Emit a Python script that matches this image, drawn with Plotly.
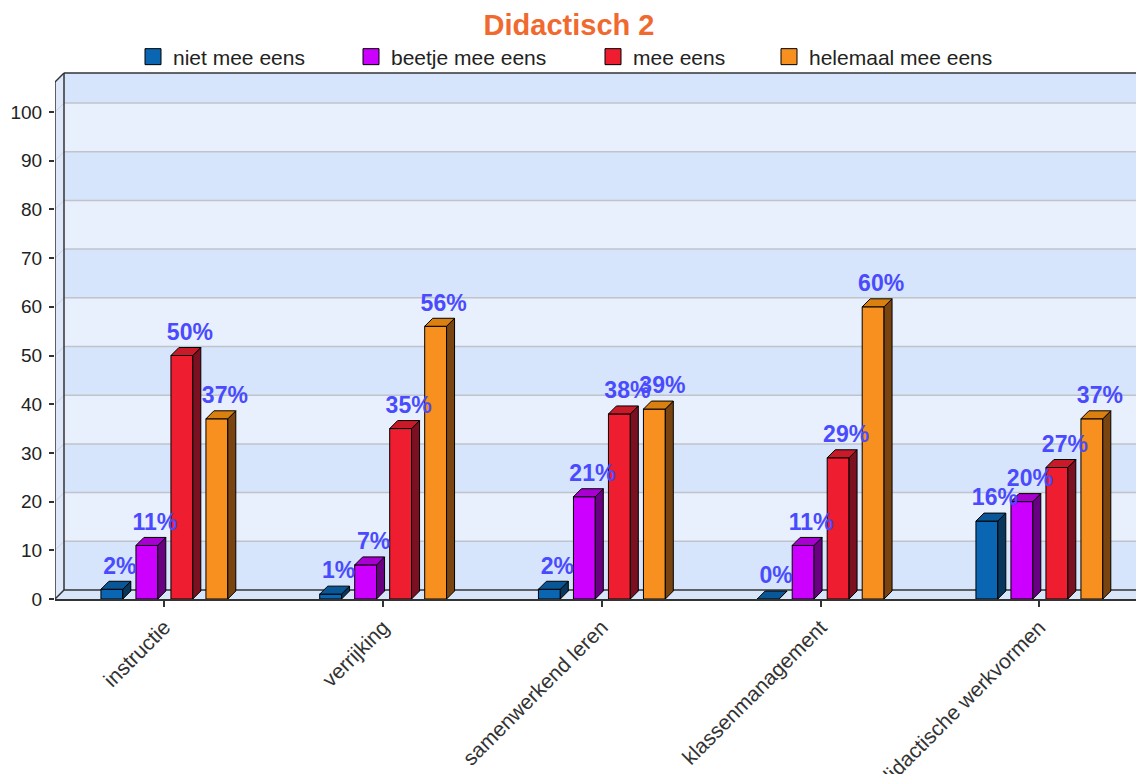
import plotly.graph_objects as go

# ---------------- data ----------------
categories = ["instructie", "verrijking", "samenwerkend leren", "klassenmanagement", "didactische werkvormen"]
series_names = ["niet mee eens", "beetje mee eens", "mee eens", "helemaal mee eens"]
niet_mee_eens = [2, 1, 2, 0, 16]
beetje_mee_eens = [11, 7, 21, 11, 20]
mee_eens = [50, 35, 38, 29, 27]
helemaal_mee_eens = [37, 56, 39, 60, 37]
series_values = [niet_mee_eens, beetje_mee_eens, mee_eens, helemaal_mee_eens]
y_ticks = [0, 10, 20, 30, 40, 50, 60, 70, 80, 90, 100]
title_text = "Didactisch 2"

# ---------------- style ----------------
front_colors = ["#0a66b2", "#cc00ff", "#ee1e30", "#f7901e"]
top_colors = ["#0a5798", "#a900d2", "#c81a28", "#d98010"]
side_colors = ["#08365c", "#690082", "#7a1020", "#7a4410"]
label_color = "#4a4aff"
FONT = "Liberation Sans, Arial, sans-serif"

PAGE = 8  # default body margin of the html page
FIG_W, FIG_H = 1144 - PAGE, 782 - 2 * PAGE
M_L, M_T = 55 - PAGE, 72 - PAGE
M_R = 0
M_B = FIG_H - (599 - PAGE)
PX_PER_X = 218.75
PX_PER_Y = 4.87
plot_w = FIG_W - M_L - M_R
plot_h = FIG_H - M_T - M_B
x0 = -0.5
x1 = x0 + plot_w / PX_PER_X
ymax = plot_h / PX_PER_Y

# depths (pixels -> data units)
dxb, dyb = 8 / PX_PER_X, 8 / PX_PER_Y      # bars
dxw, dyw = 9 / PX_PER_X, 9 / PX_PER_Y      # walls
wall_top = ymax - 1 / PX_PER_Y
label_gap = 2 / PX_PER_Y

bar_w = 0.1
offsets = [-0.24, -0.08, 0.08, 0.24]
xpos = list(range(len(categories)))

fig = go.Figure()

# front faces
for i, vals in enumerate(series_values):
    fig.add_trace(go.Bar(
        x=xpos, y=vals, width=bar_w, offset=offsets[i] - bar_w / 2,
        marker=dict(color=front_colors[i], line=dict(color="#000000", width=1)),
        showlegend=False, hoverinfo="skip",
    ))

# side and top faces
for i, vals in enumerate(series_values):
    sx, sy, tx, ty = [], [], [], []
    for c, v in zip(xpos, vals):
        xl = c + offsets[i] - bar_w / 2
        xr = xl + bar_w
        sx += [xr, xr + dxb, xr + dxb, xr, xr, None]
        sy += [0, dyb, v + dyb, v, 0, None]
        tx += [xl, xr, xr + dxb, xl + dxb, xl, None]
        ty += [v, v, v + dyb, v + dyb, v, None]
    fig.add_trace(go.Scatter(x=sx, y=sy, mode="lines", fill="toself",
                             fillcolor=side_colors[i], line=dict(color="#000000", width=1),
                             showlegend=False, hoverinfo="skip"))
    fig.add_trace(go.Scatter(x=tx, y=ty, mode="lines", fill="toself",
                             fillcolor=top_colors[i], line=dict(color="#000000", width=1),
                             showlegend=False, hoverinfo="skip"))

# value labels
for i, vals in enumerate(series_values):
    fig.add_trace(go.Scatter(
        x=[c + offsets[i] + dxb for c in xpos], y=[v + dyb + label_gap for v in vals],
        mode="text", text=[f"{v}%" for v in vals], textposition="top center",
        textfont=dict(family=FONT, size=23, color=label_color, weight="bold"),
        showlegend=False, hoverinfo="skip", cliponaxis=False,
    ))

# legend entries (one legend each to reproduce spacing)
legend_text_px = [173, 391, 633, 809]
legend_keys = ["legend", "legend2", "legend3", "legend4"]
for i, name in enumerate(series_names):
    fig.add_trace(go.Scatter(
        x=[None], y=[None], mode="markers", name=name,
        marker=dict(symbol="square", size=16, color=front_colors[i],
                    line=dict(color="#000000", width=1)),
        legend=legend_keys[i],
    ))

# ---------------- walls ----------------
shapes = []
dark_band, light_band = "#d6e5fb", "#e8f0fd"
edges = y_ticks + [wall_top - dyw]
for k in range(len(edges) - 1):
    shapes.append(dict(type="rect", xref="x", yref="y", layer="below",
                       x0=x0 + dxw, x1=x1 + 1, y0=edges[k] + dyw, y1=edges[k + 1] + dyw,
                       fillcolor=dark_band if k % 2 == 0 else light_band, line=dict(width=0)))
shapes.append(dict(type="path", xref="x", yref="y", layer="below",
                   path=f"M{x0},0 L{x0 + dxw},{dyw} L{x0 + dxw},{wall_top} L{x0},{wall_top - dyw} Z",
                   fillcolor="#dde8f9", line=dict(width=0)))
shapes.append(dict(type="path", xref="x", yref="y", layer="below",
                   path=f"M{x0},0 L{x1 + 1},0 L{x1 + 1},{dyw} L{x0 + dxw},{dyw} Z",
                   fillcolor="#d9e6fa", line=dict(width=0)))
for t in y_ticks[1:]:
    shapes.append(dict(type="line", xref="x", yref="y", layer="below",
                       x0=x0 + dxw, x1=x1 + 1, y0=t + dyw, y1=t + dyw,
                       line=dict(color="#bfc3ca", width=1.5)))
    shapes.append(dict(type="line", xref="x", yref="y", layer="below",
                       x0=x0, x1=x0 + dxw, y0=t, y1=t + dyw,
                       line=dict(color="#c8d2e0", width=1)))
dark = "#333333"
for (ax, ay, bx, by) in [
    (x0 + dxw, dyw, x1 + 1, dyw),
    (x0 + dxw, dyw, x0 + dxw, wall_top),
    (x0 + dxw, wall_top, x1 + 1, wall_top),
    (x0, wall_top - dyw, x0 + dxw, wall_top),
    (x0, 0, x0 + dxw, dyw),
    (x0, 0, x0, wall_top - dyw),
]:
    shapes.append(dict(type="line", xref="x", yref="y", layer="below",
                       x0=ax, y0=ay, x1=bx, y1=by, line=dict(color=dark, width=1.5)))

legend_layout = {}
for i, key in enumerate(legend_keys):
    legend_layout[key] = dict(
        x=(legend_text_px[i] - PAGE - 40 - M_L) / plot_w, xanchor="left",
        y=(FIG_H - M_B - (57 - PAGE)) / plot_h, yanchor="middle",
        orientation="h", bgcolor="rgba(0,0,0,0)",
        font=dict(family=FONT, size=21, color="#222222"),
    )

fig.update_layout(
    template="none",
    width=FIG_W, height=FIG_H,
    margin=dict(l=M_L, r=M_R, t=M_T, b=M_B, pad=0, autoexpand=False),
    paper_bgcolor="white", plot_bgcolor="white",
    barmode="overlay",
    title=dict(text=title_text, x=(569 - PAGE) / FIG_W, xanchor="center", xref="container",
               y=1 - (25 - PAGE) / FIG_H, yanchor="middle", yref="container",
               font=dict(family=FONT, size=29, color="#f06a30", weight="bold")),
    xaxis=dict(range=[x0, x1], tickvals=xpos, ticktext=categories, tickangle=-45,
               showgrid=False, zeroline=False, showline=True, linecolor=dark, linewidth=1.5,
               ticks="outside", ticklen=6, tickcolor=dark, tickwidth=1.5,
               tickfont=dict(family=FONT, size=21, color="#333333"), automargin=False),
    yaxis=dict(range=[0, ymax], tickvals=y_ticks, showgrid=False, zeroline=False,
               showline=False, ticks="outside", ticklen=5, tickcolor=dark, tickwidth=1.5,
               ticklabelstandoff=3,
               tickfont=dict(family=FONT, size=19, color="#222222"), automargin=False),
    shapes=shapes,
    **legend_layout,
)

fig.write_html("out.html")
